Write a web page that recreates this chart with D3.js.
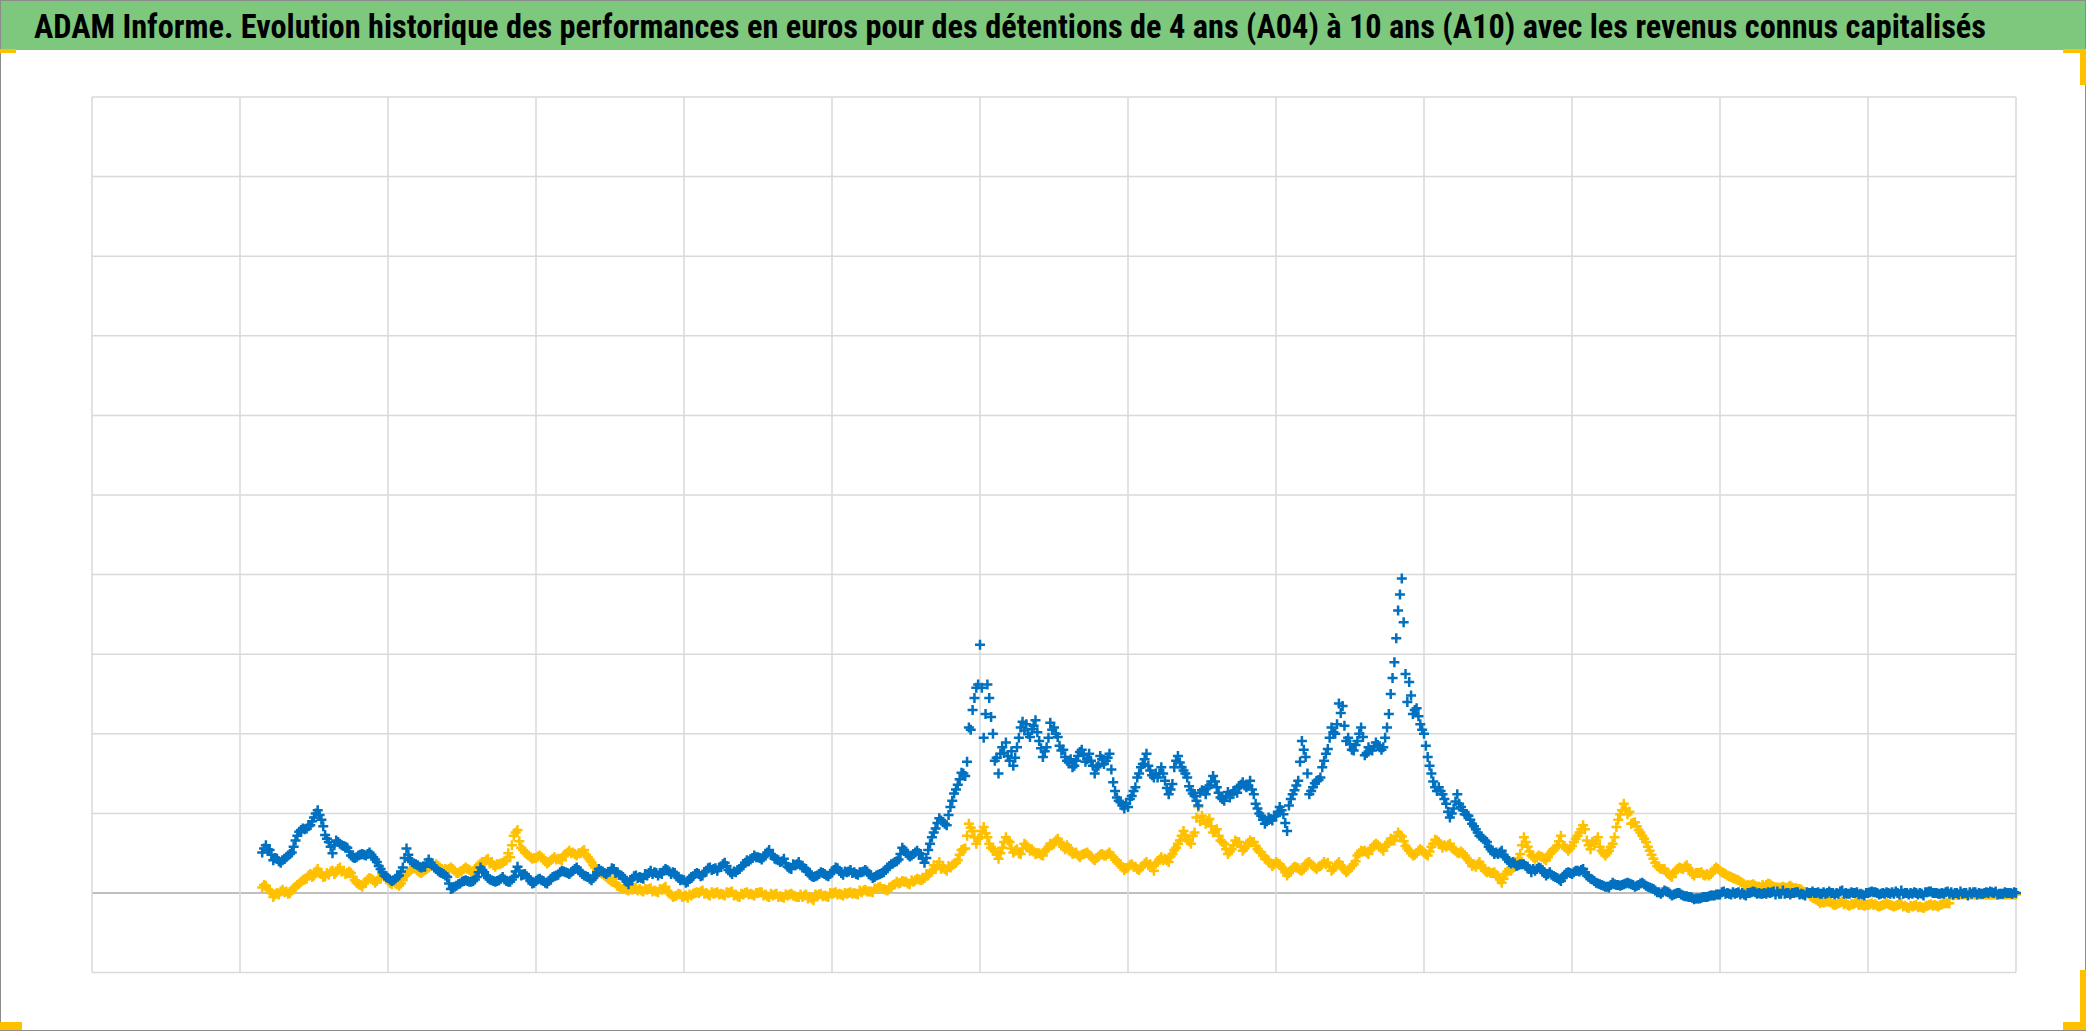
<!DOCTYPE html>
<html><head><meta charset="utf-8">
<script src="https://cdn.jsdelivr.net/npm/d3@7"></script>
<style>html,body{margin:0;padding:0;background:#fff;overflow:hidden}</style>
</head><body>
<svg id="chart" width="2086" height="1031"></svg>
<script>
const titleText = "ADAM Informe. Evolution historique des performances en euros pour des détentions de 4 ans (A04) à 10 ans (A10) avec les revenus connus capitalisés";
// x positions: period index (13 grid columns of 20 periods); first value at period 23
const startIndex = 23;
const xTicks = d3.range(0, 261, 20);
const yTicks = d3.range(-100, 1001, 100);

// A04 series (blue), values in %, read at each period (offset 0)
const a04Main = [51,54,43,43,51,77,81,95,92,64,66,59,47,47,47,45,30,19,18,32,41,35,33,35,26,20,8,14,14,20,26,16,16,15,20,22,19,15,15,18,23,26,28,26,20,22,27,27,
26,18,18,20,22,26,24,27,22,16,20,24,28,30,33,29,26,35,42,45,48,47,39,33,35,32,23,22,24,26,28,26,26,26,24,22,26,36,42,51,49,49,54,81,89,108,136,147,
230,312,262,166,183,166,183,204,206,191,183,208,179,164,166,173,166,160,166,139,114,108,133,162,154,145,141,137,164,145,122,129,135,133,116,124,133,133,124,97,95,97,99,118,141,171,133,145,181,
200,235,187,191,173,179,183,208,290,395,265,232,200,150,133,112,106,108,97,80,68,55,49,45,39,36,33,28,29,26,19,23,24,27,22,15,10,7,10,11,11,10,9,5,-1,1,-1,-3,
-5,-7,-5,-3,-2,0,-1,0,0,-1,0,1,-1,0,0,-1,0,0,1,0,-1,0,0,-1,0,1,0,-1,0,0,-1,0,1,0,0,-1,0,0,-1,0,1,0,-1,0,0];
// A04, read at period + 0.5
const a04Mid = [60,41,38,47,66,81,85,104,73,50,62,57,44,49,51,39,22,15,22,56,37,32,42,30,24,5,11,16,15,32,19,14,20,14,33,24,12,18,12,21,28,24,32,22,16,30,24,
30,22,11,22,18,28,22,30,26,16,14,24,22,32,28,38,24,30,41,47,42,54,42,43,30,39,30,20,26,21,32,23,29,23,29,19,24,32,39,57,46,53,38,70,94,85,125,151,
208,258,195,221,150,189,160,208,200,217,171,214,196,171,158,177,168,150,168,175,120,106,122,150,175,145,158,124,166,154,129,110,124,147,120,127,129,139,141,106,87,91,108,78,129,191,124,141,166,
208,238,191,179,208,183,189,183,250,355,275,225,212,171,133,124,95,124,99,87,72,64,49,53,39,34,36,26,32,22,21,15,26,28,30,18,12,8,13,9,13,8,13,7,1,3,-3,0,
-4,-8,-6,-4,-2,2,-2,1,-3,2,-1,1,-2,3,-2,1,-3,2,-1,0,-2,3,-1,1,-3,2,-2,1,-1,3,-2,0,-3,2,-1,1,-2,2,-3,1,-1,2,-2,1,-1];
// A04, read at period + 0.25
const a04Q1 = [56,48,40,45,58,79,84,100,84,58,64,58,45,48,49,42,26,17,20,44,39,33,38,32,25,12,9,15,14,26,22,15,18,14,27,23,15,17,13,20,26,25,30,24,18,26,25,
31,23,14,21,19,25,25,28,24,19,13,21,21,31,31,36,26,29,38,44,44,51,43,40,31,36,31,21,24,22,29,25,27,24,27,22,23,29,37,49,48,51,43,62,88,87,116,143,
165,245,258,245,170,176,178,195,212,210,182,195,200,180,168,172,165,160,172,170,128,110,118,145,168,148,150,132,158,158,134,116,128,140,126,122,128,136,135,112,92,93,102,88,124,165,150,138,158,
195,212,210,180,200,176,184,180,225,320,340,248,222,185,140,128,102,115,104,92,76,66,52,51,42,37,36,30,30,25,23,17,25,26,29,20,13,9,10,10,12,10,12,8,3,1,-1,0,
-4,-6,-7,-5,-3,1,-1,0,-2,1,0,-1,2,-1,0,1,-2,0,1,-1,0,2,-1,0,-2,1,0,-1,1,-2,0,1,-1,2,0,-1,1,-2,0,1,-1,0,2,-1,0];
// A04, read at period + 0.75
const a04Q3 = [55,44,41,49,72,80,90,98,68,60,60,52,45,48,48,34,20,16,27,48,36,33,38,28,22,6,12,15,17,29,17,15,17,17,28,21,13,16,15,22,27,26,29,21,19,28,26,
25,20,16,19,24,24,25,29,25,17,18,25,26,29,32,34,27,33,40,45,45,49,41,37,36,35,27,21,25,24,31,27,25,26,27,20,25,34,40,54,47,50,44,76,91,98,130,150,
205,262,225,200,175,172,170,215,196,202,178,205,185,166,160,180,175,158,162,155,116,112,128,158,160,150,150,130,172,150,125,126,132,140,118,120,126,135,130,100,90,96,104,110,135,180,128,142,175,
202,226,195,186,196,180,186,195,270,375,240,230,205,160,128,118,100,112,98,84,70,58,51,48,37,35,34,30,31,24,20,19,25,28,26,17,11,8,11,10,12,9,11,6,1,2,-2,-2,
-5,-7,-5,-3,-2,-1,1,-2,0,1,-1,0,2,-1,0,-2,1,0,-1,2,0,-1,1,-2,0,1,-1,0,2,-1,0,-2,1,0,-1,2,0,-1,1,-2,0,1,-1,0,1];

// A10 series (yellow), values in %, read at each period (offset 0)
const a10Main = [7,3,0,1,3,12,18,22,24,23,26,28,25,11,14,16,18,16,12,16,28,28,29,35,32,29,28,28,29,32,39,39,36,41,72,57,47,44,43,41,43,49,51,50,45,32,24,16,
9,7,4,5,4,3,4,0,-3,-4,-3,0,0,-1,-1,0,-2,-2,-1,0,-2,-3,-4,-3,-4,-5,-5,-3,-3,-1,-1,-1,0,1,2,5,5,8,12,14,14,16,22,30,32,32,41,56,
78,70,70,53,57,64,55,62,55,50,55,62,62,57,51,49,46,46,47,45,36,32,33,34,36,39,43,49,66,68,76,97,93,80,62,55,64,59,64,51,41,39,30,28,31,36,34,34,38,
33,32,31,47,53,57,58,61,66,71,53,50,51,58,64,58,55,52,41,33,31,25,20,24,31,49,58,43,45,49,58,59,59,76,66,62,53,53,83,112,87,79,64,43,30,24,28,30,
28,25,22,26,28,22,18,13,9,8,8,9,6,6,6,4,-1,-8,-12,-12,-13,-13,-14,-14,-15,-14,-15,-15,-15,-16,-17,-17,-16,-15,-14,-13,-2,-2,-2,-2,-2,-2,-2,-2,-2];
// A10, read at period + 0.5
const a10Mid = [9,-5,2,-1,8,16,24,30,21,28,32,25,16,8,19,15,21,11,9,24,32,25,32,36,28,32,25,32,26,37,43,33,38,45,79,51,43,47,37,45,41,53,47,54,39,26,20,
18,5,3,7,2,6,1,8,-5,-2,-6,0,3,-3,1,-3,2,-5,1,-3,1,-5,-1,-6,-1,-5,-2,-9,-1,-5,1,-3,1,-2,4,1,8,3,11,15,11,18,19,28,39,28,37,54,
87,62,83,57,43,70,51,49,57,49,47,62,68,55,49,45,51,41,49,51,39,29,36,29,39,28,45,39,57,78,62,108,87,76,66,49,66,53,66,55,43,34,36,22,33,28,39,30,39,
28,39,26,36,53,49,62,53,68,76,59,47,55,47,67,57,62,51,47,34,39,26,26,13,30,39,70,47,47,41,55,72,53,68,85,55,70,47,62,99,99,89,72,53,34,30,20,32,
35,22,26,22,32,25,20,16,9,11,7,12,7,8,9,5,1,-6,-13,-10,-15,-11,-16,-12,-16,-13,-17,-13,-17,-13,-19,-15,-19,-14,-17,-13,-3,-2,-2,-2,-2,-2,-2,-2,-2];
// A10, read at period + 0.25
const a10Q1 = [10,0,-2,2,6,14,22,27,20,27,30,24,20,10,17,13,22,13,11,22,30,26,30,34,30,30,25,30,27,35,41,35,37,50,76,54,45,46,40,43,42,51,49,52,42,29,22,
14,8,4,6,3,5,2,6,-2,-1,-3,-1,2,-2,0,-2,1,-4,0,-2,1,-4,-2,-5,-2,-5,-3,-7,-2,-4,0,-2,0,-1,3,2,7,4,10,13,12,16,17,25,35,30,35,48,
72,70,78,62,48,64,56,50,60,52,48,58,66,58,52,47,50,43,48,49,42,32,35,30,37,32,42,41,54,72,65,95,92,84,72,55,60,58,63,59,47,37,37,26,31,29,38,32,36,
33,36,29,34,50,51,60,56,64,72,65,50,53,49,62,61,60,53,50,38,36,28,25,17,27,35,60,52,45,43,52,65,56,64,80,60,66,50,58,92,106,88,76,58,38,30,22,30,
33,24,25,24,30,26,21,17,11,10,8,10,8,7,8,6,2,-4,-10,-11,-14,-12,-15,-13,-15,-14,-16,-14,-16,-14,-18,-16,-18,-15,-16,-13,-2,-2,-2,-2,-2,-2,-2,-2,-2];
// A10, read at period + 0.75
const a10Q3 = [5,-2,4,0,10,17,20,26,25,24,27,27,13,12,18,19,19,14,12,26,31,27,34,34,30,30,27,30,29,39,37,36,40,60,65,49,44,45,39,42,47,50,50,48,35,25,18,
12,5,6,3,5,2,5,2,-4,-5,-2,1,-1,1,-2,1,-3,-1,-2,0,-3,-1,-5,-2,-3,-2,-7,-2,-4,0,-2,0,-1,3,2,6,5,7,14,14,16,17,24,35,30,34,38,55,
82,68,75,55,50,66,53,56,53,50,52,60,64,60,50,48,48,44,47,47,37,31,33,32,35,37,41,46,62,72,72,90,90,78,64,52,64,56,64,52,42,36,33,25,32,30,36,33,36,
30,35,28,40,52,54,60,58,66,73,56,48,53,52,66,60,57,50,44,36,35,27,23,18,28,44,64,45,46,45,56,60,56,72,80,64,58,50,70,104,102,84,68,48,32,26,25,31,
31,25,23,24,30,24,19,14,10,9,10,11,7,7,7,5,0,-7,-11,-11,-14,-14,-14,-15,-15,-15,-16,-14,-16,-17,-16,-18,-17,-16,-15,-13,-2,-2,-2,-2,-2,-2,-2,-2,-2];

const W = 2086, H = 1031;
const svg = d3.select("#chart");
const plot = {left: 92, right: 2016, top: 97, bottom: 972.6};

const x = d3.scaleLinear().domain([0, 260]).range([plot.left, plot.right]);
const y = d3.scaleLinear().domain([-100, 1000]).range([plot.bottom, plot.top]);

function points(sets) {
  const pts = [];
  sets.forEach(([vals, off]) => vals.forEach((v, k) => pts.push({p: startIndex + k + off, v})));
  return pts.sort((a, b) => a.p - b.p);
}

svg.append("rect").attr("x",0).attr("y",0).attr("width",W).attr("height",H).attr("fill","#fff");
svg.append("rect").attr("x",0).attr("y",0).attr("width",W).attr("height",50).attr("fill","#7dc87d");
svg.append("text").attr("x", 34).attr("y", 38)
  .attr("font-family","'Liberation Sans Narrow','Roboto Condensed','Liberation Sans',sans-serif")
  .attr("font-weight","bold").attr("font-size",33).attr("fill","#000")
  .attr("textLength", 1952).attr("lengthAdjust","spacingAndGlyphs")
  .text(titleText);

const g = svg.append("g");
g.selectAll("line.h").data(yTicks).join("line")
  .attr("x1", plot.left).attr("x2", plot.right)
  .attr("y1", d => y(d)).attr("y2", d => y(d))
  .attr("stroke", d => d === 0 ? "#bfbfbf" : "#d9d9d9").attr("stroke-width", d => d === 0 ? 2 : 1.5);
g.selectAll("line.v").data(xTicks).join("line")
  .attr("y1", plot.top).attr("y2", plot.bottom)
  .attr("x1", d => x(d)).attr("x2", d => x(d))
  .attr("stroke", "#d9d9d9").attr("stroke-width", 1.5);

const plus = "M-5,0H5M0,-5V5";
function drawSeries(pts, color) {
  svg.append("g").selectAll("path").data(pts).join("path")
    .attr("transform", d => `translate(${x(d.p)},${y(d.v)})`)
    .attr("d", plus).attr("stroke", color).attr("stroke-width", 2.5).attr("fill", "none");
}
drawSeries(points([[a10Main,0],[a10Mid,0.5],[a10Q1,0.25],[a10Q3,0.75]]), "#ffc000");
drawSeries(points([[a04Main,0],[a04Mid,0.5],[a04Q1,0.25],[a04Q3,0.75]]), "#0070c0");

svg.append("rect").attr("x",0.5).attr("y",0.5).attr("width",W-1).attr("height",H-1)
  .attr("fill","none").attr("stroke","#8c8c8c").attr("stroke-width",1);

const handles = [[0,49,16,4],[2063,49,23,4],[2080,49,6,36],[0,1022,22,8],[2063,1022,23,8],[2080,970,6,60]];
svg.append("g").selectAll("rect").data(handles).join("rect")
  .attr("x", d => d[0]).attr("y", d => d[1]).attr("width", d => d[2]).attr("height", d => d[3])
  .attr("fill", "#ffc000");
</script>
</body></html>
